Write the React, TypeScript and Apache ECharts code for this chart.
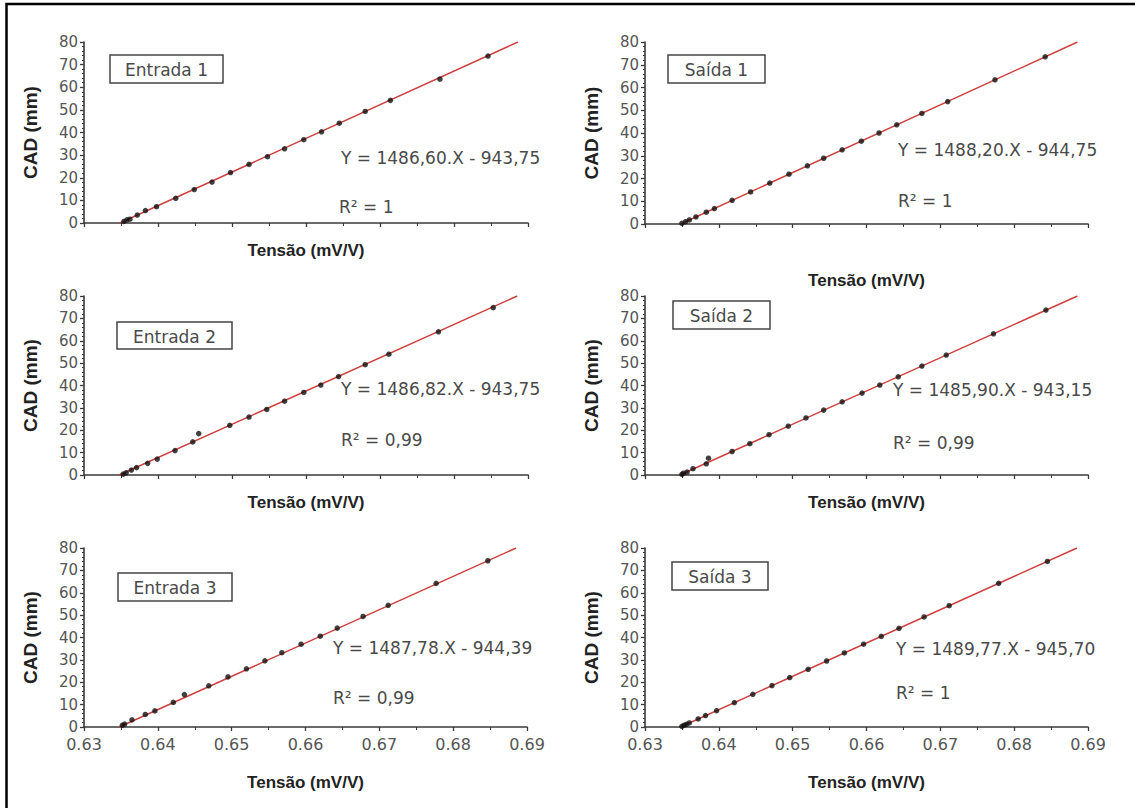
import React, { useEffect, useRef } from "react";
import * as echarts from "echarts";

// ---------- data ----------
const panelNames = ["Entrada 1", "Saída 1", "Entrada 2", "Saída 2", "Entrada 3", "Saída 3"];
const equations = [
  "Y = 1486,60.X - 943,75",
  "Y = 1488,20.X - 944,75",
  "Y = 1486,82.X - 943,75",
  "Y = 1485,90.X - 943,15",
  "Y = 1487,78.X - 944,39",
  "Y = 1489,77.X - 945,70",
];
const r2Labels = ["R² = 1", "R² = 1", "R² = 0,99", "R² = 0,99", "R² = 0,99", "R² = 1"];

const xTickMin = 0.63;
const xTickMax = 0.69;
const xTickStep = 0.01;
const yTickMin = 0;
const yTickMax = 80;
const yTickStep = 10;

const entrada1X = [0.6354, 0.6358, 0.6362, 0.6372, 0.6383, 0.6398, 0.6424, 0.6449, 0.6473, 0.6498, 0.6523, 0.6548, 0.6571, 0.6597, 0.6621, 0.6645, 0.668, 0.6714, 0.6781, 0.6846];
const entrada1Y = [0.7, 1.4, 1.7, 3.5, 5.5, 7.2, 10.9, 14.8, 18.1, 22.3, 25.9, 29.3, 32.8, 36.8, 40.3, 44.1, 49.3, 54.2, 63.6, 73.8];

const saida1X = [0.635, 0.6355, 0.636, 0.6369, 0.6383, 0.6394, 0.6418, 0.6443, 0.6469, 0.6495, 0.652, 0.6542, 0.6567, 0.6593, 0.6617, 0.6641, 0.6675, 0.671, 0.6774, 0.6842];
const saida1Y = [0.3, 1.0, 1.8, 3.1, 5.2, 6.8, 10.4, 14.1, 18.0, 21.9, 25.6, 28.9, 32.6, 36.4, 40.0, 43.6, 48.6, 53.8, 63.4, 73.5];

const entrada2X = [0.6353, 0.6357, 0.6364, 0.6371, 0.6386, 0.6399, 0.6423, 0.6447, 0.6455, 0.6497, 0.6523, 0.6547, 0.6571, 0.6597, 0.662, 0.6644, 0.668, 0.6712, 0.6779, 0.6853];
const entrada2Y = [0.4, 1.0, 2.2, 3.3, 5.2, 7.1, 10.9, 14.8, 18.5, 22.2, 25.9, 29.3, 33.0, 36.9, 40.2, 44.0, 49.3, 54.0, 64.0, 74.8];

const saida2X = [0.635, 0.6352, 0.6357, 0.6365, 0.6383, 0.6386, 0.6418, 0.6442, 0.6468, 0.6494, 0.6518, 0.6542, 0.6567, 0.6594, 0.6618, 0.6643, 0.6675, 0.6708, 0.6772, 0.6843];
const saida2Y = [0.3, 0.8, 1.3, 2.8, 5.0, 7.5, 10.5, 14.0, 18.0, 21.8, 25.5, 29.0, 32.7, 36.6, 40.2, 43.9, 48.7, 53.6, 63.1, 73.7];

const entrada3X = [0.6352, 0.6355, 0.6365, 0.6383, 0.6396, 0.6421, 0.6436, 0.6469, 0.6495, 0.652, 0.6545, 0.6568, 0.6594, 0.662, 0.6643, 0.6678, 0.6712, 0.6777, 0.6847];
const entrada3Y = [0.8, 1.3, 3.2, 5.6, 7.2, 11.0, 14.5, 18.4, 22.4, 26.0, 29.6, 33.2, 37.0, 40.6, 44.2, 49.4, 54.4, 64.2, 74.3];

const saida3X = [0.635, 0.6353, 0.6356, 0.636, 0.6372, 0.6382, 0.6397, 0.6421, 0.6446, 0.6472, 0.6496, 0.6521, 0.6546, 0.657, 0.6596, 0.662, 0.6644, 0.6678, 0.6712, 0.6779, 0.6845];
const saida3Y = [0.3, 0.8, 1.2, 1.8, 3.6, 5.1, 7.3, 10.9, 14.6, 18.5, 22.1, 25.8, 29.5, 33.1, 37.0, 40.5, 44.1, 49.2, 54.2, 64.2, 74.0];

// fitted lines: start (Y = 0) and end (Y = 80)
const fitStartX = [0.63484, 0.63483, 0.63475, 0.63473, 0.63477, 0.6348];
const fitEndX = [0.68865, 0.68858, 0.68855, 0.68857, 0.68853, 0.6885];
const fitStartY = 0;
const fitEndY = 80;

const pointsX = [entrada1X, saida1X, entrada2X, saida2X, entrada3X, saida3X];
const pointsY = [entrada1Y, saida1Y, entrada2Y, saida2Y, entrada3Y, saida3Y];

// ---------- layout ----------
const grids = [
  { left: 84, top: 42, width: 444, height: 181 },
  { left: 645, top: 42, width: 443, height: 182 },
  { left: 84, top: 296, width: 444, height: 179 },
  { left: 645, top: 296, width: 443, height: 179 },
  { left: 84, top: 548, width: 443, height: 179 },
  { left: 645, top: 548, width: 443, height: 179 },
];
const xNameGaps = [19, 48, 19, 19, 47, 47];
const boxes = [
  { x: 110, y: 55, w: 113, h: 28 },
  { x: 668, y: 55, w: 97, h: 28 },
  { x: 117, y: 322, w: 115, h: 27 },
  { x: 673, y: 301, w: 97, h: 28 },
  { x: 118, y: 573, w: 114, h: 28 },
  { x: 672, y: 562, w: 96, h: 28 },
];
const eqPos = [
  { x: 341, y: 158 },
  { x: 898, y: 150 },
  { x: 341, y: 389 },
  { x: 893, y: 390 },
  { x: 333, y: 648 },
  { x: 896, y: 649 },
];
const r2Pos = [
  { x: 339, y: 207 },
  { x: 898, y: 201 },
  { x: 341, y: 440 },
  { x: 893, y: 443 },
  { x: 333, y: 698 },
  { x: 896, y: 693 },
];

const AXIS = "#3a3a3a";
const TEXT = "#4a4a4a";
const RED = "#cf3f3f";

export default function App() {
  const ref = useRef<HTMLDivElement>(null);

  useEffect(() => {
    if (!ref.current) return;
    const chart = echarts.init(ref.current, undefined, { renderer: "svg" });

    const xAxis = grids.map((_, i) => ({
      type: "value",
      gridIndex: i,
      min: xTickMin,
      max: xTickMax,
      interval: xTickStep,
      name: "Tensão (mV/V)",
      nameLocation: "middle",
      nameGap: xNameGaps[i],
      nameTextStyle: { fontFamily: "Liberation Sans", fontWeight: "bold", fontSize: 17, color: "#222" },
      axisLine: { show: true, onZero: false, lineStyle: { color: AXIS, width: 1.6 } },
      axisTick: { show: true, length: 4, lineStyle: { color: AXIS, width: 1.3 } },
      minorTick: { show: true, splitNumber: 2, length: 3, lineStyle: { color: AXIS, width: 1 } },
      splitLine: { show: false },
      axisLabel: {
        show: i >= 4,
        margin: 9,
        fontFamily: "DejaVu Sans",
        fontSize: 16,
        color: "#555",
        formatter: (v: number) => v.toFixed(2),
      },
    }));

    const yAxis = grids.map((_, i) => ({
      type: "value",
      gridIndex: i,
      min: yTickMin,
      max: yTickMax,
      interval: yTickStep,
      name: "CAD (mm)",
      nameLocation: "middle",
      nameGap: 44,
      nameTextStyle: { fontFamily: "Liberation Sans", fontWeight: "bold", fontSize: 19, color: "#222" },
      axisLine: { show: true, onZero: false, lineStyle: { color: AXIS, width: 1.6 } },
      axisTick: { show: true, length: 4, lineStyle: { color: AXIS, width: 1.3 } },
      minorTick: { show: true, splitNumber: 5, length: 2, lineStyle: { color: AXIS, width: 1 } },
      splitLine: { show: false },
      axisLabel: { margin: 6, fontFamily: "DejaVu Sans", fontSize: 15, color: "#555" },
    }));

    const series: any[] = [];
    grids.forEach((_, i) => {
      series.push({
        type: "line",
        xAxisIndex: i,
        yAxisIndex: i,
        data: [
          [fitStartX[i], fitStartY],
          [fitEndX[i], fitEndY],
        ],
        showSymbol: false,
        lineStyle: { color: RED, width: 1.5 },
        silent: true,
        z: 2,
      });
      series.push({
        type: "scatter",
        xAxisIndex: i,
        yAxisIndex: i,
        data: pointsX[i].map((x, k) => [x, pointsY[i][k]]),
        symbol: "circle",
        symbolSize: 5.5,
        itemStyle: { color: "#111" },
        z: 3,
      });
    });

    const graphic: any[] = [
      {
        type: "rect",
        shape: { x: 6.5, y: 4, width: 1300, height: 1000 },
        style: { fill: "none", stroke: "#000", lineWidth: 2.5 },
        silent: true,
      },
    ];
    boxes.forEach((b, i) => {
      graphic.push({
        type: "rect",
        shape: { x: b.x, y: b.y, width: b.w, height: b.h },
        style: { fill: "#fff", stroke: "#444", lineWidth: 1.5 },
        z: 10,
      });
      graphic.push({
        type: "text",
        x: b.x + b.w / 2,
        y: b.y + b.h / 2 + 1,
        style: {
          text: panelNames[i],
          fontFamily: "DejaVu Sans",
          fontSize: 17,
          fill: TEXT,
          align: "center",
          verticalAlign: "middle",
        },
        z: 11,
      });
    });
    eqPos.forEach((p, i) => {
      graphic.push({
        type: "text",
        x: p.x,
        y: p.y,
        style: {
          text: equations[i],
          fontFamily: "DejaVu Sans",
          fontSize: 17,
          fill: TEXT,
          align: "left",
          verticalAlign: "middle",
        },
        z: 11,
      });
    });
    r2Pos.forEach((p, i) => {
      graphic.push({
        type: "text",
        x: p.x,
        y: p.y,
        style: {
          text: r2Labels[i],
          fontFamily: "DejaVu Sans",
          fontSize: 17,
          fill: TEXT,
          align: "left",
          verticalAlign: "middle",
        },
        z: 11,
      });
    });

    chart.setOption({
      animation: false,
      backgroundColor: "#fff",
      grid: grids.map((g) => ({ ...g, containLabel: false })),
      xAxis,
      yAxis,
      series,
      graphic,
    });

    return () => chart.dispose();
  }, []);

  return (
    <div
      ref={ref}
      style={{ position: "absolute", left: 0, top: 0, width: 1135, height: 808, background: "#fff" }}
    />
  );
}
